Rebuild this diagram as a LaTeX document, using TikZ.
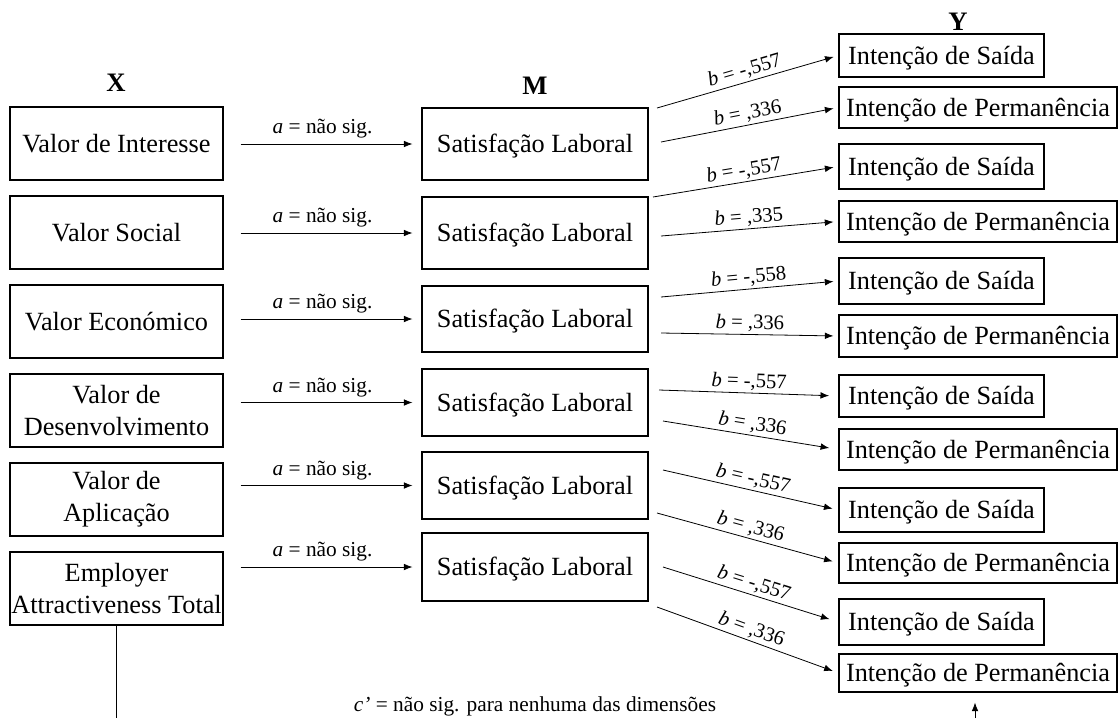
\documentclass[tikz,border=0pt]{standalone}
\usepackage{fontspec}
\setmainfont{Liberation Serif}
\usetikzlibrary{arrows.meta}
\begin{document}
\begin{tikzpicture}[x=0.75pt,y=-0.75pt,
  box/.style={draw, line width=0.8pt, inner sep=0pt, align=center,
    font=\fontsize{19.7}{24}\selectfont},
  oneline/.style={text height=13pt, text depth=0pt},
  xbox/.style={box, minimum width=159.75pt, minimum height=54.75pt},
  mbox/.style={box, oneline, minimum width=169.5pt},
  sbox/.style={box, oneline, minimum width=153.75pt},
  pbox/.style={box, oneline, minimum width=208.5pt},
  head/.style={font=\fontsize{20}{22}\selectfont\bfseries, inner sep=0pt},
  arr/.style={line width=0.6pt, -{Latex[length=6.5pt,width=5pt]}},
  alab/.style={font=\fontsize{16}{18}\selectfont, midway, above, inner sep=4pt},
  blab/.style={font=\fontsize{15.5}{18}\selectfont, midway, above, sloped, inner sep=1.5pt},
]
\useasboundingbox (0,0) rectangle (1119,718);

% column headings
\node[head] (hx) at (116,83) {X};
\node[head] (hm) at (535,86) {M};
\node[head] (hy) at (958,22) {Y};

% predictors
\node[xbox, oneline] (x1) at (116.5,143.5) {Valor de Interesse};
\node[xbox, oneline] (x2) at (116.5,232.5) {Valor Social};
\node[xbox, oneline] (x3) at (116.5,321.5) {Valor Económico};
\node[xbox] (x4) at (116.5,410.5) {Valor de\\Desenvolvimento};
\node[xbox] (x5) at (116.5,499.5) {Valor de\\Aplicação};
\node[xbox] (x6) at (116.5,588.5) {Employer\\Attractiveness Total};

% mediators
\node[mbox, minimum height=54pt]    (m1) at (535,144)   {Satisfação Laboral};
\node[mbox, minimum height=54pt]    (m2) at (535,233)   {Satisfação Laboral};
\node[mbox, minimum height=49.5pt]  (m3) at (535,319)   {Satisfação Laboral};
\node[mbox, minimum height=50.25pt] (m4) at (535,402.5) {Satisfação Laboral};
\node[mbox, minimum height=50.25pt] (m5) at (535,485.5) {Satisfação Laboral};
\node[mbox, minimum height=51pt]    (m6) at (535,567)   {Satisfação Laboral};

% outcomes
\node[sbox, minimum height=32.25pt] (ys1) at (941.5,55.5)  {Intenção de Saída};
\node[pbox, minimum height=30.75pt] (yp1) at (978,107.5)   {Intenção de Permanência};
\node[sbox, minimum height=33.75pt] (ys2) at (941.5,166.5) {Intenção de Saída};
\node[pbox, minimum height=30.75pt] (yp2) at (978,221.5)   {Intenção de Permanência};
\node[sbox, minimum height=34.5pt]  (ys3) at (941.5,281)   {Intenção de Saída};
\node[pbox, minimum height=31.5pt]  (yp3) at (978,336)     {Intenção de Permanência};
\node[sbox, minimum height=31.5pt]  (ys4) at (941.5,396)   {Intenção de Saída};
\node[pbox, minimum height=30.75pt] (yp4) at (978,449.5)   {Intenção de Permanência};
\node[sbox, minimum height=33pt]    (ys5) at (941.5,510)   {Intenção de Saída};
\node[pbox, minimum height=30pt]    (yp5) at (978,563)     {Intenção de Permanência};
\node[sbox, minimum height=34.5pt]  (ys6) at (941.5,622)   {Intenção de Saída};
\node[pbox, minimum height=28.5pt]  (yp6) at (978,673)     {Intenção de Permanência};

% a paths
\foreach \i in {1,...,6}{
  \draw[arr, shorten <=12.75pt, shorten >=6.75pt] (x\i.east |- m\i.west) -- (m\i.west)
    node[alab] {\textit{a} = não sig.};
}

% b paths
\coordinate (s1a) at (657,108);
\coordinate (s1b) at (661,142);
\coordinate (s2a) at (653,197);
\coordinate (s2b) at (661,236);
\coordinate (s3a) at (661,297);
\coordinate (s3b) at (661,333);
\coordinate (s4a) at (659,390);
\coordinate (s4b) at (663,421);
\coordinate (s5a) at (663,470);
\coordinate (s5b) at (657,513);
\coordinate (s6a) at (663,567);
\coordinate (s6b) at (657,607);

\draw[arr, shorten >=3.75pt] (s1a) -- (ys1.west) node[blab] {\textit{b} = -,557};
\draw[arr, shorten >=3.75pt] (s1b) -- (yp1.west) node[blab] {\textit{b} = ,336};
\draw[arr, shorten >=3.75pt] (s2a) -- (ys2.west) node[blab] {\textit{b} = -,557};
\draw[arr, shorten >=3.75pt] (s2b) -- (yp2.west) node[blab] {\textit{b} = ,335};
\draw[arr, shorten >=3.75pt] (s3a) -- (ys3.west) node[blab] {\textit{b} = -,558};
\draw[arr, shorten >=3.75pt] (s3b) -- (yp3.west) node[blab] {\textit{b} = ,336};
\draw[arr, shorten >=7pt] (s4a) -- (ys4.west) node[blab] {\textit{b} = -,557};
\draw[arr, shorten >=7pt] (s4b) -- (yp4.west) node[blab] {\textit{b} = ,336};
\draw[arr, shorten >=4.5pt] (s5a) -- (ys5.west) node[blab] {\textit{b} = -,557};
\draw[arr, shorten >=4.5pt] (s5b) -- (yp5.west) node[blab] {\textit{b} = ,336};
\draw[arr, shorten >=7pt] (s6a) -- (ys6.west) node[blab] {\textit{b} = -,557};
\draw[arr, shorten >=4.5pt] (s6b) -- (yp6.west) node[blab] {\textit{b} = ,336};

% direct path c'
\coordinate (cl) at (116.5,718);
\coordinate (cr) at (975,718);
\draw[line width=0.6pt] (x6.south) -- (cl);
\draw[arr, shorten >=7.5pt] (cr) -- (cr |- yp6.south);
\node[font=\fontsize{16}{18}\selectfont, inner sep=0pt] (cnote) at (535,706)
  {\textit{c’} = não sig. para nenhuma das dimensões};
\end{tikzpicture}
\end{document}
